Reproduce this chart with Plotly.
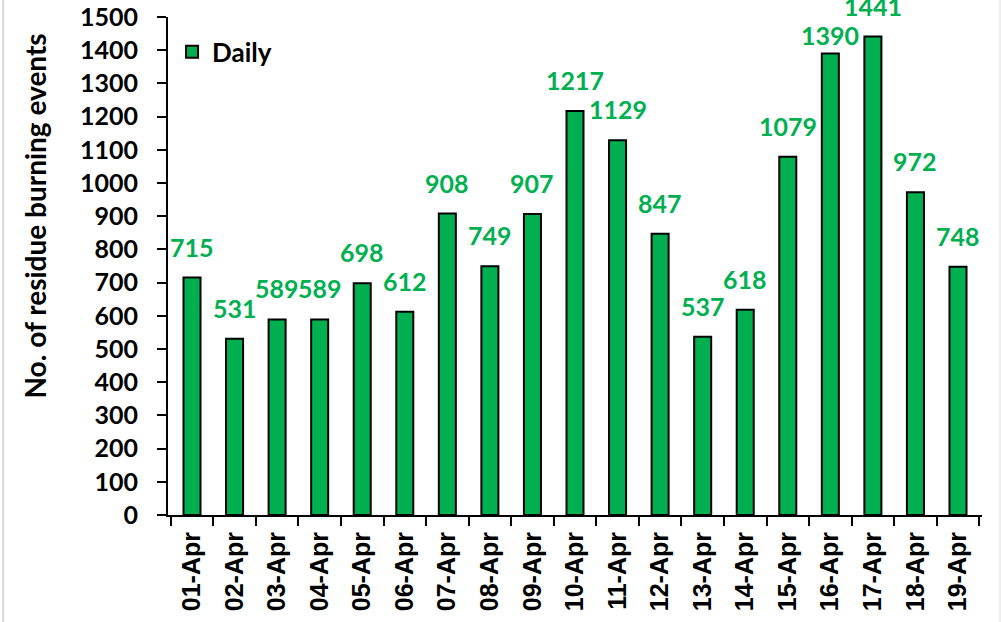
import plotly.graph_objects as go

dates = ["01-Apr", "02-Apr", "03-Apr", "04-Apr", "05-Apr", "06-Apr", "07-Apr", "08-Apr",
         "09-Apr", "10-Apr", "11-Apr", "12-Apr", "13-Apr", "14-Apr", "15-Apr", "16-Apr",
         "17-Apr", "18-Apr", "19-Apr"]
daily = [715, 531, 589, 589, 698, 612, 908, 749, 907, 1217, 1129, 847, 537, 618, 1079,
         1390, 1441, 972, 748]
y_ticks = list(range(0, 1501, 100))

GREEN = "#00B050"
LABEL_SHIFT = 14
label_nudge = {"16-Apr": -12}   # label moved down to avoid the neighbouring label

fig = go.Figure()
fig.add_trace(go.Bar(
    x=dates, y=daily, name="Daily",
    marker=dict(color=GREEN, line=dict(color="black", width=2)),
))

# data labels
for d, v in zip(dates, daily):
    fig.add_annotation(
        x=d, y=v, xref="x", yref="y", text=f"<b>{v}</b>", showarrow=False,
        yanchor="bottom", xanchor="center", yshift=LABEL_SHIFT + label_nudge.get(d, 0),
        font=dict(family="Lato", size=25, color=GREEN),
    )

# y-axis title
fig.add_annotation(
    x=-0.163, y=0.60, xref="paper", yref="paper",
    text="<b>No. of residue burning events</b>", textangle=-90, showarrow=False,
    xanchor="center", yanchor="middle",
    font=dict(family="Lato", size=28, color="black"),
)

# faint frame lines
fig.add_shape(type="line", xref="paper", yref="paper", x0=-0.2025, x1=-0.2025, y0=-0.22, y1=1.04,
              line=dict(color="#d9d9d9", width=2))
fig.add_shape(type="line", xref="paper", yref="paper", x0=1.022, x1=1.022, y0=-0.22, y1=1.04,
              line=dict(color="#eeeeee", width=2))

fig.update_layout(
    width=1003, height=622,
    margin=dict(l=168, r=21, t=17, b=107),
    plot_bgcolor="white", paper_bgcolor="white",
    bargap=0.6,
    showlegend=True,
    legend=dict(x=0.005, y=0.93, xanchor="left", yanchor="middle",
                font=dict(family="Lato", size=26, color="black", weight="bold"),
                bgcolor="rgba(0,0,0,0)"),
    font=dict(family="Lato", color="black"),
)
fig.update_xaxes(
    type="category", showline=True, linecolor="black", linewidth=2,
    ticks="outside", tickson="boundaries", ticklen=9, tickwidth=2, tickcolor="black",
    tickangle=-90, tickfont=dict(family="Liberation Sans", size=25, color="black", weight="bold"),
    ticklabelstandoff=5,
    showgrid=False, automargin=False,
)
fig.update_yaxes(
    range=[0, 1500], tickvals=y_ticks, showline=True, linecolor="black", linewidth=2,
    ticks="outside", ticklen=9, tickwidth=2, tickcolor="black",
    tickfont=dict(family="Lato", size=25, color="black", weight="bold"),
    ticklabelstandoff=14,
    showgrid=False, zeroline=False, automargin=False,
)

fig.write_html("out.html", config={"displayModeBar": False},
               post_script="document.body.style.margin='0';")
